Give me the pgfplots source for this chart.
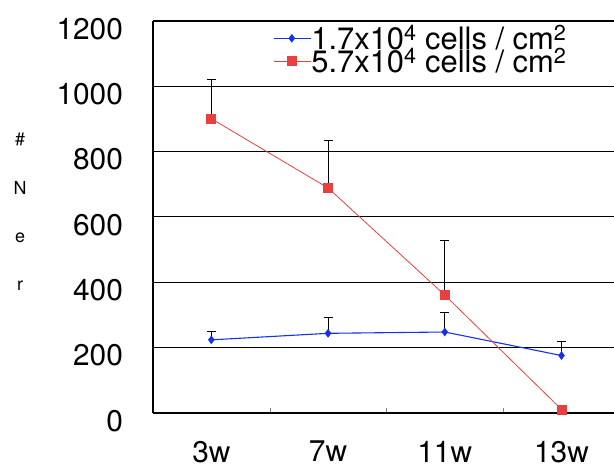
\documentclass[border=0pt]{standalone}
\usepackage{fontspec}
\setmainfont{TeX Gyre Heros}
\usepackage{pgfplots}
\pgfplotsset{compat=1.18}

\definecolor{serblue}{RGB}{20,50,230}
\definecolor{serred}{RGB}{232,64,64}

\begin{document}
\begin{tikzpicture}
\path[use as bounding box] (0,0) rectangle (614bp,464bp);

% y-axis title, letters stacked as in the original
\node[anchor=north, inner sep=0pt, align=center,
      font=\fontsize{18}{48.5}\selectfont] at (20bp,331bp) {\#\\N\\e\\r};

\begin{axis}[
  name=ax,
  scale only axis, width=461bp, height=392bp,
  at={(153bp,51.3bp)}, anchor=south west,
  xmin=0, xmax=3.95, ymin=0, ymax=1200,
  axis x line=bottom, axis y line=left,
  axis line style={line width=1.6bp, -},
  xtick={1,2,3}, xticklabels={},
  xtick align=inside,
  major tick length=5bp,
  extra x ticks={0.5,1.5,2.5,3.5},
  extra x tick labels={3w,7w,11w,13w},
  extra x tick style={major tick length=0pt, grid=none,
    tick label style={yshift=-25bp}},
  ytick={0,200,400,600,800,1000,1200},
  y tick style={draw=none},
  ymajorgrids, grid style={black, line width=0.8bp},
  tick label style={font=\fontsize{30}{31}\selectfont},
  yticklabel style={xshift=-24bp, yshift=-8bp},
  /pgf/number format/assume math mode=true,
  /pgf/number format/1000 sep={},
  clip=false,
  legend style={at={(rel axis cs:0.254,0.99)}, anchor=north west,
    draw=none, fill=none, font=\fontsize{31}{32}\selectfont,
    nodes={inner sep=0pt, text height=23bp, text depth=0bp},
    row sep=0pt},
  legend cell align=left,
  legend image code/.code={%
    \draw[mark repeat=2, mark phase=2] plot coordinates {(0bp,0bp) (18bp,0bp) (37bp,0bp)};},
]
% 1.7x10^4 cells / cm^2
\addplot[serblue, line width=1.1bp, mark=diamond*, mark size=3.5bp,
  error bars/.cd, y dir=plus, y explicit,
  error bar style={black, line width=0.9bp},
  error mark options={black, rotate=90, mark size=4.5bp, line width=0.9bp}]
  coordinates {
  (0.5,223) +- (0,25)
  (1.5,243) +- (0,49)
  (2.5,247) +- (0,59)
  (3.5,175) +- (0,44)
};
\addlegendentry{1.7x10\textsuperscript{4} cells / cm\textsuperscript{2}}

% 5.7x10^4 cells / cm^2
\addplot[serred, line width=0.8bp, mark=square*, mark size=4.5bp,
  error bars/.cd, y dir=plus, y explicit,
  error bar style={black, line width=0.9bp},
  error mark options={black, rotate=90, mark size=4.5bp, line width=0.9bp}]
  coordinates {
  (0.5,900) +- (0,119)
  (1.5,688) +- (0,144)
  (2.5,360) +- (0,168)
  (3.5,10) +- (0,0)
};
\addlegendentry{5.7x10\textsuperscript{4} cells / cm\textsuperscript{2}}
\end{axis}
% top frame line
\draw[black, line width=2.2bp] (ax.north west) -- (ax.north east);
\end{tikzpicture}
\end{document}
